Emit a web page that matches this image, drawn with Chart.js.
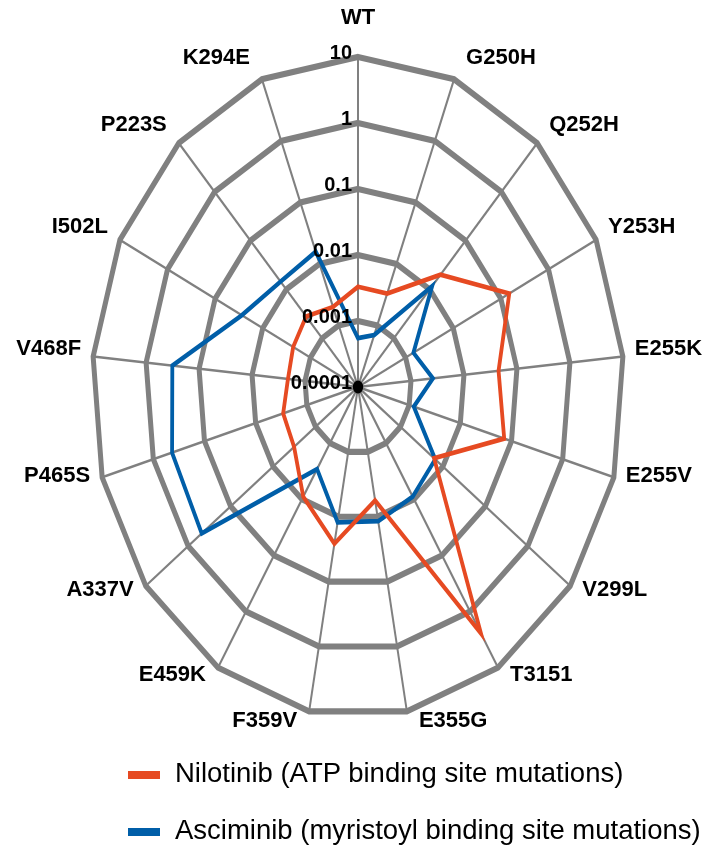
<!DOCTYPE html>
<html>
<head>
<meta charset="utf-8">
<script src="https://cdn.jsdelivr.net/npm/chart.js@4.4.1/dist/chart.umd.min.js"></script>
<style>
  html, body { margin: 0; padding: 0; background: #fff; }
  #wrap { position: relative; width: 706px; height: 845px; overflow: hidden; }
  #chart { position: absolute; left: 0; top: 0; }
  .item { position: absolute; white-space: nowrap; font-family: "Liberation Sans", Arial, sans-serif;
          font-size: 27.5px; line-height: 27px; color: #000; }
  .swatch { position: absolute; width: 32px; height: 8px; }
</style>
</head>
<body>
<div id="wrap">
  <canvas id="chart" width="706" height="845"></canvas>
  <div id="legend"></div>
</div>
<script>
// Mutations, clockwise from the top
const CATEGORIES = ['WT', 'G250H', 'Q252H', 'Y253H', 'E255K', 'E255V', 'V299L', 'T3151', 'E355G',
                    'F359V', 'E459K', 'A337V', 'P465S', 'V468F', 'I502L', 'P223S', 'K294E'];

const NILOTINIB = [0.0033, 0.0033, 0.020, 0.15, 0.045, 0.072, 0.0062, 2.45, 0.0056,
                   0.026, 0.009, 0.0032, 0.0029, 0.0021, 0.0023, 0.0028, 0.002];

const ASCIMINIB = [0.00055, 0.0007, 0.0117, 0.00146, 0.0026, 0.00123, 0.0066, 0.009, 0.0117,
                   0.0122, 0.0029, 0.48, 0.43, 0.32, 0.0275, 0.0145, 0.0158];

const SERIES_NAMES = ['Nilotinib (ATP binding site mutations)',
                      'Asciminib (myristoyl binding site mutations)'];
const SERIES_COLORS = ['#E64A22', '#005EA8'];

const TICK_VALUES = [0.0001, 0.001, 0.01, 0.1, 1, 10];
const TICK_LABELS = ['0.0001', '0.001', '0.01', '0.1', '1', '10'];

// the web is drawn taller than it is wide
const STRETCH = 1.2406;
const TICK_FONT = 'bold 20px "Liberation Sans", Arial, sans-serif';
const NAME_FONT = 'bold 22px "Liberation Sans", Arial, sans-serif';
const GRID = '#808080';

const log10 = v => Math.log10(v);

const stretchedWeb = {
  id: 'stretchedWeb',
  beforeDraw(chart) {
    const { ctx } = chart;
    const r = chart.scales.r;
    ctx.save();
    ctx.fillStyle = '#fff';
    ctx.fillRect(0, 0, chart.width, chart.height);
    ctx.translate(r.xCenter, r.yCenter);
    ctx.scale(1, STRETCH);
    ctx.translate(-r.xCenter, -r.yCenter);
  },
  afterDatasetsDraw(chart) {
    const { ctx } = chart;
    const r = chart.scales.r;
    // origin marker
    ctx.fillStyle = '#000';
    ctx.beginPath();
    ctx.arc(r.xCenter, r.yCenter, 5.2, 0, Math.PI * 2);
    ctx.fill();
    ctx.restore();

    ctx.save();
    ctx.fillStyle = '#000';
    ctx.textBaseline = 'middle';

    // value labels up the vertical spoke
    ctx.font = TICK_FONT;
    ctx.textAlign = 'right';
    r.ticks.forEach(t => {
      const d = r.getDistanceFromCenterForValue(t.value) * STRETCH;
      ctx.fillText(t.label, r.xCenter - 6, r.yCenter - d - 4);
    });

    // mutation names round the outside
    ctx.font = NAME_FONT;
    chart.data.labels.forEach((lab, i) => {
      const p = r.getPointPosition(i, r.drawingArea);
      const x = p.x;
      const y = r.yCenter + (p.y - r.yCenter) * STRETCH;
      const a = r.getIndexAngle(i);
      const s = Math.sin(a), c = Math.cos(a);
      if (Math.abs(s) < 0.05) {
        ctx.textAlign = 'center';
        ctx.fillText(lab, x, y - 39);
      } else {
        ctx.textAlign = s > 0 ? 'left' : 'right';
        ctx.fillText(lab, x + (s > 0 ? 12 : -12), y - 16 * c - 6);
      }
    });
    ctx.restore();
  }
};

const datasets = [NILOTINIB, ASCIMINIB].map((vals, k) => ({
  label: SERIES_NAMES[k],
  data: vals.map(log10),
  borderColor: SERIES_COLORS[k],
  backgroundColor: SERIES_COLORS[k],
  borderWidth: 3.8,
  fill: false,
  pointRadius: 0,
  pointHoverRadius: 0,
  tension: 0,
  clip: false
}));

new Chart(document.getElementById('chart'), {
  type: 'radar',
  data: { labels: CATEGORIES, datasets },
  options: {
    responsive: false,
    devicePixelRatio: 1,
    animation: false,
    layout: { padding: { left: 92, right: 82, top: 121, bottom: 192 } },
    plugins: { legend: { display: false }, tooltip: { enabled: false } },
    scales: {
      r: {
        min: log10(TICK_VALUES[0]),
        max: log10(TICK_VALUES[TICK_VALUES.length - 1]),
        ticks: {
          display: false,
          stepSize: 1,
          callback: v => {
            const idx = TICK_VALUES.findIndex(t => Math.abs(log10(t) - v) < 1e-9);
            return idx >= 0 ? TICK_LABELS[idx] : '';
          }
        },
        grid: { color: GRID, lineWidth: 5 },
        angleLines: { color: GRID, lineWidth: 2 },
        pointLabels: { display: false }
      }
    }
  },
  plugins: [stretchedWeb]
});

// legend, one series per row
const legend = document.getElementById('legend');
const LEGEND_TOPS = [759, 816];
SERIES_NAMES.forEach((name, k) => {
  const sw = document.createElement('div');
  sw.className = 'swatch';
  sw.style.left = '128px';
  sw.style.top = (LEGEND_TOPS[k] + 12) + 'px';
  sw.style.background = SERIES_COLORS[k];
  legend.appendChild(sw);
  const t = document.createElement('div');
  t.className = 'item';
  t.style.left = '175px';
  t.style.top = LEGEND_TOPS[k] + 'px';
  t.textContent = name;
  legend.appendChild(t);
});
</script>
</body>
</html>
